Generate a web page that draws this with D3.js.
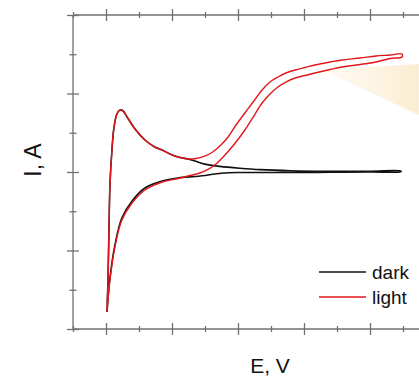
<!DOCTYPE html>
<html>
<head>
<meta charset="utf-8">
<script src="https://cdn.jsdelivr.net/npm/d3@7"></script>
<style>
  body { margin: 0; background: #fff; }
  text { font-family: "Liberation Sans", Arial, sans-serif; fill: #111; }
</style>
</head>
<body>
<div id="chart"></div>
<script>
// potential E (V) / current I (A, arbitrary units)
var sharedE = [0.003, 0.006, 0.009, 0.012, 0.018, 0.024, 0.033, 0.042, 0.052, 0.064, 0.088, 0.118, 0.148, 0.170, 0.194, 0.218, 0.248];
var sharedI = [-1.783, -1.376, -0.739, -0.166, 0.280, 0.561, 0.739, 0.790, 0.777, 0.701, 0.548, 0.408, 0.318, 0.280, 0.229, 0.191, 0.166];

var darkE = [0.270, 0.300, 0.345, 0.406, 0.467, 0.558, 0.679, 0.800, 0.894,
             0.894, 0.800, 0.679, 0.558, 0.467, 0.406, 0.370, 0.330, 0.300, 0.270, 0.218, 0.170, 0.118, 0.079, 0.048, 0.027, 0.012, 0.003];
var darkI = [0.140, 0.100, 0.072, 0.048, 0.030, 0.016, 0.010, 0.010, 0.013,
             0.005, 0.000, -0.004, -0.006, -0.006, -0.006, -0.010, -0.025, -0.045, -0.057, -0.076, -0.115, -0.204, -0.369, -0.586, -0.930, -1.350, -1.783];

var lightE = [0.273, 0.297, 0.321, 0.345, 0.370, 0.394, 0.421, 0.448, 0.473, 0.497, 0.521, 0.545, 0.573, 0.603, 0.633, 0.679, 0.715, 0.770, 0.818, 0.861, 0.897,
              0.897, 0.861, 0.818, 0.770, 0.715, 0.679, 0.633, 0.603, 0.573, 0.545, 0.521, 0.497, 0.473, 0.448, 0.421, 0.394, 0.370, 0.352, 0.330, 0.309, 0.285, 0.255, 0.218, 0.170, 0.118, 0.079, 0.048, 0.027, 0.012, 0.003];
var lightI = [0.172, 0.198, 0.248, 0.331, 0.446, 0.599, 0.752, 0.904, 1.045, 1.146, 1.210, 1.261, 1.299, 1.331, 1.363, 1.401, 1.427, 1.452, 1.478, 1.490, 1.503,
              1.465, 1.446, 1.401, 1.369, 1.338, 1.306, 1.261, 1.229, 1.197, 1.146, 1.083, 0.994, 0.879, 0.713, 0.535, 0.382, 0.261, 0.178, 0.089, 0.032, -0.013, -0.045, -0.083, -0.127, -0.229, -0.395, -0.611, -0.955, -1.376, -1.783];

// light beam wedge (E, I)
var beamE = [0.655, 0.948, 0.948];
var beamI = [1.299, 1.376, 0.726];

var xMajor = [0, 0.2, 0.4, 0.6, 0.8, 1.0];
var xMinor = [-0.1, 0.1, 0.3, 0.5, 0.7, 0.9];
var yMajor = [-2, -1, 0, 1, 2];
var yMinor = [-1.5, -0.5, 0.5, 1.5];

var seriesNames = ["dark", "light"];
var seriesColors = ["#111111", "#e3161b"];

var width = 419, height = 378;
var axisColor = "#707070";

var svg = d3.select("#chart").append("svg")
    .attr("width", width)
    .attr("height", height);

var x = d3.scaleLinear().domain([-0.1, 1.0]).range([73, 436]);
var y = d3.scaleLinear().domain([-2, 2]).range([329, 15]);

function pts(es, is) {
    var out = [];
    for (var i = 0; i < es.length; i++) out.push([es[i], is[i]]);
    return out;
}

// beam
var grad = svg.append("defs").append("linearGradient")
    .attr("id", "beam")
    .attr("gradientUnits", "userSpaceOnUse")
    .attr("x1", x(beamE[0])).attr("x2", width)
    .attr("y1", 0).attr("y2", 0);
grad.append("stop").attr("offset", "0%").attr("stop-color", "#fcefd6").attr("stop-opacity", 0.3);
grad.append("stop").attr("offset", "100%").attr("stop-color", "#f9e5bd").attr("stop-opacity", 0.7);

svg.append("polygon")
    .attr("points", pts(beamE, beamI).map(function(d) { return x(d[0]) + "," + y(d[1]); }).join(" "))
    .attr("fill", "url(#beam)");

// axes: crossing ticks from pairs of d3 axes, domain lines drawn separately
function drawAxis(gen, scale, vals, size, tr) {
    var g = svg.append("g")
        .attr("transform", tr)
        .call(gen(scale).tickValues(vals).tickSize(size).tickFormat(""));
    g.select(".domain").remove();
    g.selectAll("line").attr("stroke", axisColor).attr("stroke-width", 1.3);
}

[d3.axisBottom, d3.axisTop].forEach(function(gen) {
    [-2, 2].forEach(function(v) {
        drawAxis(gen, x, xMajor, 6, "translate(0," + y(v) + ")");
        drawAxis(gen, x, xMinor, 3, "translate(0," + y(v) + ")");
    });
});
[d3.axisLeft, d3.axisRight].forEach(function(gen) {
    drawAxis(gen, y, yMajor, 6, "translate(" + x(-0.1) + ",0)");
    drawAxis(gen, y, yMinor, 3.5, "translate(" + x(-0.1) + ",0)");
});

[-2, 2].forEach(function(v) {
    svg.append("line")
        .attr("x1", x(-0.1)).attr("x2", width)
        .attr("y1", y(v)).attr("y2", y(v))
        .attr("stroke", axisColor).attr("stroke-width", 1.3);
});
svg.append("line")
    .attr("x1", x(-0.1)).attr("x2", x(-0.1))
    .attr("y1", y(2)).attr("y2", y(-2))
    .attr("stroke", axisColor).attr("stroke-width", 1.3);

// curves
var line = d3.line()
    .x(function(d) { return x(d[0]); })
    .y(function(d) { return y(d[1]); })
    .curve(d3.curveCatmullRom.alpha(0.5));

var darkPts = pts(sharedE, sharedI).concat(pts(darkE, darkI));
var lightPts = pts(sharedE, sharedI).concat(pts(lightE, lightI));

svg.append("path")
    .datum(darkPts)
    .attr("d", line)
    .attr("fill", "none")
    .attr("stroke", seriesColors[0])
    .attr("stroke-width", 1.6);

svg.append("path")
    .datum(lightPts)
    .attr("d", line)
    .attr("fill", "none")
    .attr("stroke", seriesColors[1])
    .attr("stroke-width", 1.4);

// labels
svg.append("text")
    .attr("x", 270).attr("y", 373)
    .attr("text-anchor", "middle")
    .style("font-size", "21px")
    .text("E, V");

svg.append("text")
    .attr("transform", "translate(41,160) rotate(-90)")
    .attr("text-anchor", "middle")
    .style("font-size", "23px")
    .text("I, A");

// legend
var legend = svg.append("g").attr("transform", "translate(319,272)");
seriesNames.forEach(function(name, i) {
    legend.append("line")
        .attr("x1", 0).attr("x2", 47)
        .attr("y1", i * 25).attr("y2", i * 25)
        .attr("stroke", seriesColors[i])
        .attr("stroke-width", 1.5);
    legend.append("text")
        .attr("x", 53).attr("y", i * 25 + 7)
        .style("font-size", "19px")
        .text(name);
});
</script>
</body>
</html>
